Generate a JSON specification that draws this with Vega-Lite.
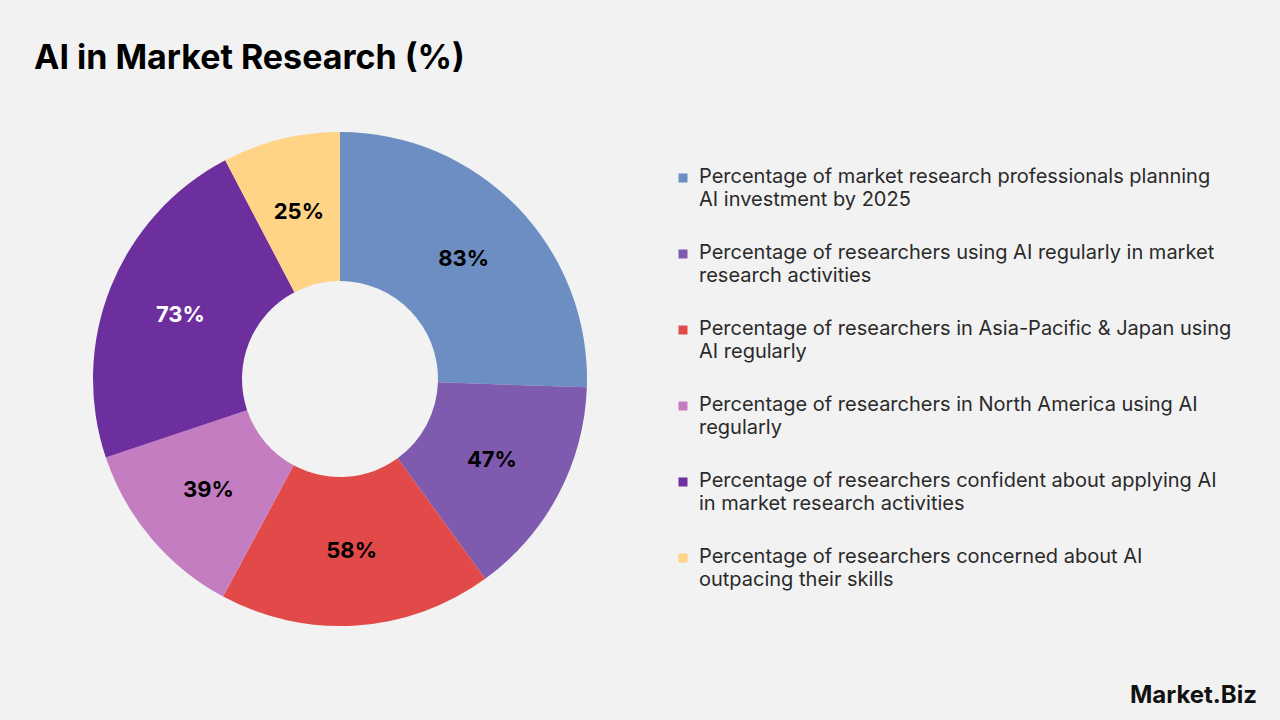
{
  "$schema": "https://vega.github.io/schema/vega-lite/v6.json",
  "background": "#f2f2f2",
  "autosize": {"type": "none"},
  "padding": {"left": 0, "top": 132, "right": 1280, "bottom": 588},
  "title": {"text": "AI in Market Research (%)", "anchor": "start", "dx": 34, "offset": 29, "font": "Inter", "fontSize": 34, "fontWeight": 700, "color": "#000000", "baseline": "alphabetic"},
  "datasets": {
    "shares": [
      {"rank": 1, "category": "Percentage of market research professionals planning\nAI investment by 2025", "value": 83},
      {"rank": 2, "category": "Percentage of researchers using AI regularly in market\nresearch activities", "value": 47},
      {"rank": 3, "category": "Percentage of researchers in Asia-Pacific & Japan using\nAI regularly", "value": 58},
      {"rank": 4, "category": "Percentage of researchers in North America using AI\nregularly", "value": 39},
      {"rank": 5, "category": "Percentage of researchers confident about applying AI\nin market research activities", "value": 73},
      {"rank": 6, "category": "Percentage of researchers concerned about AI\noutpacing their skills", "value": 25}
    ]
  },
  "vconcat": [
    {
      "width": 680,
      "height": 494,
      "title": {"text": "Market.Biz", "orient": "bottom", "anchor": "end", "frame": "group", "dx": 577, "offset": 58, "font": "Inter", "fontSize": 24, "fontWeight": 700, "color": "#111111"},
      "data": {"name": "shares"},
      "encoding": {
        "theta": {"field": "value", "type": "quantitative", "stack": true},
        "order": {"field": "rank", "type": "quantitative"}
      },
      "layer": [
        {
          "mark": {"type": "arc", "innerRadius": 98, "outerRadius": 247},
          "encoding": {
            "color": {
              "field": "category",
              "type": "nominal",
              "scale": {
                "domain": [
                  "Percentage of market research professionals planning\nAI investment by 2025",
                  "Percentage of researchers using AI regularly in market\nresearch activities",
                  "Percentage of researchers in Asia-Pacific & Japan using\nAI regularly",
                  "Percentage of researchers in North America using AI\nregularly",
                  "Percentage of researchers confident about applying AI\nin market research activities",
                  "Percentage of researchers concerned about AI\noutpacing their skills"
                ],
                "range": ["#6c8ec2", "#7e5bae", "#e24a4a", "#c47dc0", "#6d2e9e", "#ffd486"]
              },
              "legend": {
                "orient": "none",
                "legendX": 673,
                "legendY": 36,
                "title": null,
                "padding": 0,
                "symbolType": "square",
                "symbolSize": 81,
                "symbolStrokeWidth": 0,
                "labelFont": "Inter",
                "labelFontSize": 20,
                "labelColor": "#2a2a2a",
                "labelLimit": 700,
                "labelOffset": 6,
                "labelBaseline": "top",
                "rowPadding": 33,
                "labelExpr": "split(datum.label, '\\n')",
                "encode": {"labels": {"update": {"lineHeight": {"value": 23}, "dy": {"value": -11}}}}
              }
            }
          }
        },
        {
          "mark": {"type": "text", "radius": 172, "font": "Inter", "fontSize": 22, "fontWeight": 700},
          "encoding": {
            "detail": {"field": "category", "type": "nominal"},
            "text": {"value": {"expr": "datum.value + '%'"}},
            "color": {"condition": {"test": "datum.value == 73", "value": "#ffffff"}, "value": "#000000"}
          }
        }
      ]
    }
  ],
  "config": {"view": {"stroke": null}, "concat": {"spacing": 0}}
}
